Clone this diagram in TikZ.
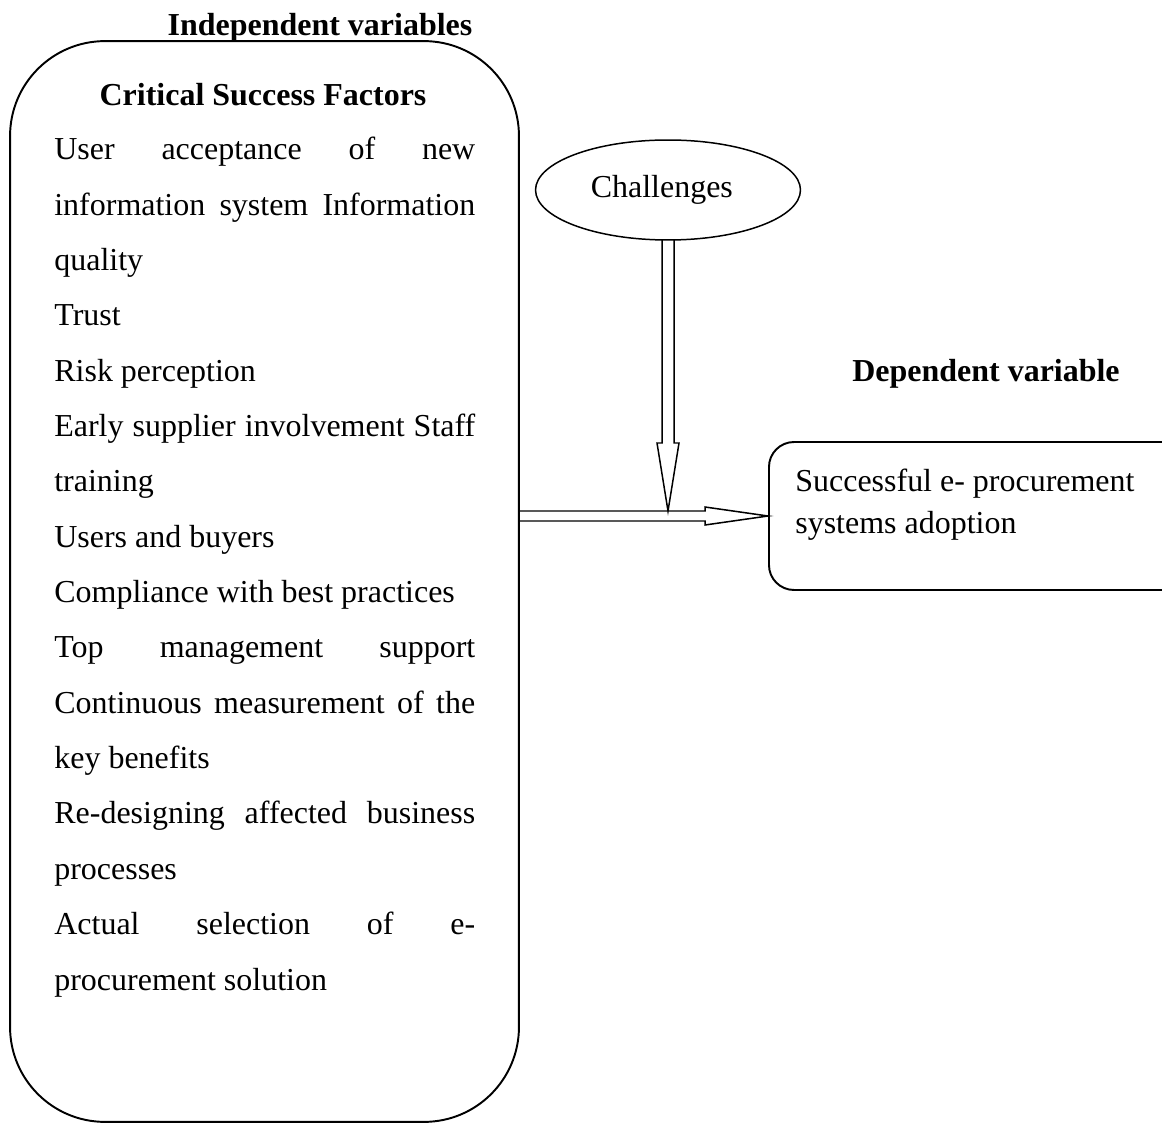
\documentclass[tikz,border=0pt]{standalone}
\usepackage{fontspec}
\setmainfont{Liberation Serif}
\usetikzlibrary{positioning, shapes.geometric, calc}

\newcommand{\spreadline}[1]{\makebox[\hsize][s]{\spaceskip=0pt\xspaceskip=0pt #1}}

\begin{document}
\begin{tikzpicture}[x=0.02cm, y=-0.02cm,
  txt/.style={font=\fontsize{18.2}{31.5}\selectfont, inner sep=0pt},
  title/.style={font=\fontsize{18.2}{22}\selectfont\bfseries, inner sep=0pt},
  csfbox/.style={draw, line width=1.1pt, rounded corners=1.9cm,
                 minimum width=10.18cm, minimum height=21.62cm},
  resbox/.style={draw, line width=1.1pt, rounded corners=0.5cm,
                 minimum width=9.2cm, minimum height=2.96cm, anchor=west},
  oval/.style={draw, ellipse, line width=0.85pt, minimum width=5.3cm,
               minimum height=2cm, font=\fontsize{18.2}{22}\selectfont},
  hollow/.style={draw, line width=0.85pt, line join=miter}]

  \useasboundingbox (0,0) rectangle (1162,1124);

  % independent side
  \node[csfbox] (csf) at (264.5,581.5) {};
  \node[title, anchor=base] (indep) at (320,36) {Independent variables};
  \node[title, anchor=base] (csftitle) at (263,106) {Critical Success Factors};
  \node[txt, anchor=north west, text width=8.42cm, align=justify] (factors) at (54,137) {%
    \spreadline{User acceptance of new}\\
    \spreadline{information system Information}\\
    quality\\
    Trust\\
    Risk perception\\
    \spreadline{Early supplier involvement Staff}\\
    training\\
    Users and buyers\\
    Compliance with best practices\\
    \spreadline{Top management support}\\
    \spreadline{Continuous measurement of the}\\
    key benefits\\
    \spreadline{Re-designing affected business}\\
    processes\\
    \spreadline{Actual selection of e-}\\
    procurement solution};

  % moderating factor
  \node[oval] (chal) at (668,190) {\hspace*{-7pt}Challenges};

  % dependent side
  \node[title, anchor=base] (dep) at (986,382) {Dependent variable};
  \node[resbox] (adopt) at (768,516) {};
  \node[font=\fontsize{18.2}{23.9}\selectfont, inner sep=0pt, anchor=north west,
        align=justify] (adopttxt) at ($(adopt.north west)+(27,28)$)
        {Successful e- procurement\\systems adoption};

  % hollow arrows
  \coordinate (hstart) at (csf.east |- adopt.west);
  \coordinate (dtip) at ($(chal.south |- hstart)+(0,-5)$);
  \draw[hollow] ($(hstart)+(0,-5)$) -- ($(adopt.west)+(-63,-5)$) -- ++(0,-4)
    -- (adopt.west) -- ($(adopt.west)+(-63,9)$) -- ++(0,-4) -- ($(hstart)+(0,5)$);
  \draw[hollow] ($(chal.south)+(-6,-1)$) -- ($(dtip)+(-6,-68)$) -- ++(-5,0)
    -- (dtip) -- ($(dtip)+(11,-68)$) -- ++(-5,0) -- ($(chal.south)+(6,-1)$);
\end{tikzpicture}
\end{document}
